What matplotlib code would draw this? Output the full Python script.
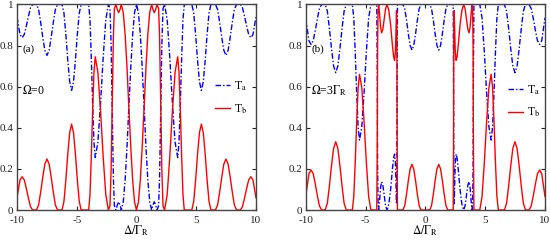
import matplotlib
matplotlib.use("Agg")
import matplotlib.pyplot as plt

plt.rcParams['font.family'] = ['Liberation Serif', 'DejaVu Serif']
plt.rcParams['mathtext.fontset'] = 'stix'
plt.rcParams['axes.unicode_minus'] = False

# ---- panel (a): Omega = 0 ----
x_a = ([-10.00, -9.75, -9.57, -9.39, -9.22, -9.04, -8.87, -8.69,
        -8.37, -8.19, -8.02, -7.84, -7.67, -7.49, -7.31, -7.14, -6.96, -6.79, -6.61,
        -6.23, -6.07, -5.91, -5.75, -5.59, -5.43, -5.27, -5.11, -4.95, -4.79, -4.63,
        -4.00, -3.89, -3.78, -3.67, -3.56, -3.45, -3.23, -3.01, -2.79, -2.57, -2.35,
        -2.22, -2.12, -2.02, -1.93, -1.85, -1.72, -1.60, -1.49, -1.38, -1.27,
        -1.11, -0.95, -0.79, -0.64, -0.48, -0.32, -0.16, 0.00]
       + [0.16, 0.32, 0.48, 0.64, 0.79, 0.95, 1.11,
          1.27, 1.38, 1.49, 1.60, 1.72, 1.85, 1.93, 2.02, 2.12, 2.22,
          2.35, 2.57, 2.79, 3.01, 3.23, 3.45, 3.56, 3.67, 3.78, 3.89, 4.00,
          4.63, 4.79, 4.95, 5.11, 5.27, 5.43, 5.59, 5.75, 5.91, 6.07, 6.23,
          6.61, 6.79, 6.96, 7.14, 7.31, 7.49, 7.67, 7.84, 8.02, 8.19, 8.37,
          8.69, 8.87, 9.04, 9.22, 9.39, 9.57, 9.75, 10.00])
tb_a = ([0.06, 0.146, 0.162, 0.146, 0.105, 0.057, 0.016, 0.0,
         0.0, 0.025, 0.087, 0.161, 0.223, 0.248, 0.223, 0.161, 0.087, 0.025, 0.0,
         0.0, 0.042, 0.146, 0.272, 0.376, 0.418, 0.376, 0.272, 0.146, 0.042, 0.0,
         0.0, 0.075, 0.261, 0.484, 0.67, 0.745, 0.67, 0.484, 0.261, 0.075, 0.0,
         0.02, 0.2, 0.55, 0.85, 0.98, 1.0, 0.975, 0.96, 0.975, 1.0,
         0.962, 0.854, 0.691, 0.5, 0.309, 0.146, 0.038, 0.0]
        + [0.038, 0.146, 0.309, 0.5, 0.691, 0.854, 0.962,
           1.0, 0.975, 0.96, 0.975, 1.0, 0.98, 0.85, 0.55, 0.2, 0.02,
           0.0, 0.075, 0.261, 0.484, 0.67, 0.745, 0.67, 0.484, 0.261, 0.075, 0.0,
           0.0, 0.042, 0.146, 0.272, 0.376, 0.418, 0.376, 0.272, 0.146, 0.042, 0.0,
           0.0, 0.025, 0.087, 0.161, 0.223, 0.248, 0.223, 0.161, 0.087, 0.025, 0.0,
           0.0, 0.016, 0.057, 0.105, 0.146, 0.162, 0.146, 0.06])
ta_a = ([0.94, 0.854, 0.838, 0.854, 0.895, 0.943, 0.984, 1.0,
         1.0, 0.975, 0.913, 0.839, 0.777, 0.752, 0.777, 0.839, 0.913, 0.975, 1.0,
         1.0, 0.958, 0.854, 0.728, 0.624, 0.582, 0.624, 0.728, 0.854, 0.958, 1.0,
         1.0, 0.925, 0.739, 0.516, 0.33, 0.255, 0.33, 0.516, 0.739, 0.925, 1.0,
         0.98, 0.8, 0.45, 0.15, 0.02, 0.0, 0.025, 0.04, 0.025, 0.0,
         0.038, 0.146, 0.309, 0.5, 0.691, 0.854, 0.962, 1.0]
        + [0.962, 0.854, 0.691, 0.5, 0.309, 0.146, 0.038,
           0.0, 0.025, 0.04, 0.025, 0.0, 0.02, 0.15, 0.45, 0.8, 0.98,
           1.0, 0.925, 0.739, 0.516, 0.33, 0.255, 0.33, 0.516, 0.739, 0.925, 1.0,
           1.0, 0.958, 0.854, 0.728, 0.624, 0.582, 0.624, 0.728, 0.854, 0.958, 1.0,
           1.0, 0.975, 0.913, 0.839, 0.777, 0.752, 0.777, 0.839, 0.913, 0.975, 1.0,
           1.0, 0.984, 0.943, 0.895, 0.854, 0.838, 0.854, 0.94])

# ---- panel (b): Omega = 3 Gamma_R ----
x_b = ([-10.00, -9.73, -9.55, -9.37, -9.20, -9.02, -8.85, -8.67,
        -8.37, -8.19, -8.02, -7.84, -7.67, -7.49, -7.31, -7.14, -6.96, -6.79, -6.61,
        -6.10, -5.98, -5.86, -5.74, -5.62, -5.50, -5.31, -5.12, -4.93, -4.74, -4.55,
        -4.06, -4.02, -3.99, -3.95, -3.90, -3.82, -3.74, -3.65, -3.55, -3.45,
        -3.32, -3.20, -3.05, -2.90, -2.75, -2.65, -2.57, -2.50, -2.45, -2.41,
        -2.38, -2.36, -2.33,
        -1.87, -1.72, -1.57, -1.42, -1.27, -1.12, -0.97, -0.82, -0.67, -0.52, -0.37,
        0.00]
       + [0.37, 0.52, 0.67, 0.82, 0.97, 1.12, 1.27, 1.42, 1.57, 1.72, 1.87,
          2.33, 2.36, 2.38, 2.41, 2.45, 2.50, 2.57, 2.65, 2.75, 2.90, 3.05,
          3.20, 3.32, 3.45, 3.55, 3.65, 3.74, 3.82, 3.90, 3.95, 3.99, 4.02, 4.06,
          4.55, 4.74, 4.93, 5.12, 5.31, 5.50, 5.62, 5.74, 5.86, 5.98, 6.10,
          6.61, 6.79, 6.96, 7.14, 7.31, 7.49, 7.67, 7.84, 8.02, 8.19, 8.37,
          8.67, 8.85, 9.02, 9.20, 9.37, 9.55, 9.73, 10.00])
tb_b = ([0.065, 0.176, 0.195, 0.176, 0.127, 0.068, 0.02, 0.0,
         0.0, 0.033, 0.116, 0.216, 0.299, 0.332, 0.299, 0.216, 0.116, 0.033, 0.0,
         0.0, 0.066, 0.231, 0.429, 0.594, 0.66, 0.594, 0.429, 0.231, 0.066, 0.0,
         0.0, 0.3, 0.8, 0.97, 1.0, 0.95, 0.89, 0.862, 0.88, 0.925,
         0.98, 1.0, 0.97, 0.9, 0.8, 0.745, 0.728, 0.77, 0.88, 0.97,
         0.9, 0.4, 0.0,
         0.0, 0.022, 0.078, 0.144, 0.2, 0.222, 0.2, 0.144, 0.078, 0.022, 0.0,
         0.0]
        + [0.0, 0.022, 0.078, 0.144, 0.2, 0.222, 0.2, 0.144, 0.078, 0.022, 0.0,
           0.0, 0.4, 0.9, 0.97, 0.88, 0.77, 0.728, 0.745, 0.8, 0.9, 0.97,
           1.0, 0.98, 0.925, 0.88, 0.862, 0.89, 0.95, 1.0, 0.97, 0.8, 0.3, 0.0,
           0.0, 0.066, 0.231, 0.429, 0.594, 0.66, 0.594, 0.429, 0.231, 0.066, 0.0,
           0.0, 0.033, 0.116, 0.216, 0.299, 0.332, 0.299, 0.216, 0.116, 0.033, 0.0,
           0.0, 0.02, 0.068, 0.127, 0.176, 0.195, 0.176, 0.065])
ta_b = ([0.935, 0.824, 0.805, 0.824, 0.873, 0.932, 0.98, 1.0,
         1.0, 0.967, 0.884, 0.784, 0.701, 0.668, 0.701, 0.784, 0.884, 0.967, 1.0,
         1.0, 0.934, 0.769, 0.571, 0.406, 0.34, 0.406, 0.571, 0.769, 0.934, 1.0,
         1.0, 0.7, 0.2, 0.03, 0.0, 0.05, 0.11, 0.138, 0.12, 0.075,
         0.02, 0.0, 0.03, 0.1, 0.2, 0.255, 0.272, 0.23, 0.12, 0.03,
         0.1, 0.6, 1.0,
         1.0, 0.978, 0.922, 0.856, 0.8, 0.778, 0.8, 0.856, 0.922, 0.978, 1.0,
         1.0]
        + [1.0, 0.978, 0.922, 0.856, 0.8, 0.778, 0.8, 0.856, 0.922, 0.978, 1.0,
           1.0, 0.6, 0.1, 0.03, 0.12, 0.23, 0.272, 0.255, 0.2, 0.1, 0.03,
           0.0, 0.02, 0.075, 0.12, 0.138, 0.11, 0.05, 0.0, 0.03, 0.2, 0.7, 1.0,
           1.0, 0.934, 0.769, 0.571, 0.406, 0.34, 0.406, 0.571, 0.769, 0.934, 1.0,
           1.0, 0.967, 0.884, 0.784, 0.701, 0.668, 0.701, 0.784, 0.884, 0.967, 1.0,
           1.0, 0.98, 0.932, 0.873, 0.824, 0.805, 0.824, 0.935])

x_ticks = [-10, -5, 0, 5, 10]
y_ticks = [0, 0.2, 0.4, 0.6, 0.8, 1]
y_ticklabels = ["0", "0.2", "0.4", "0.6", "0.8", "1"]
panel_tags = ["(a)", "(b)"]
omega_labels = [r"$\Omega$=0", r"$\Omega$=3$\Gamma_\mathrm{R}$"]
series_labels = [r"T$_\mathrm{a}$", r"T$_\mathrm{b}$"]

fig = plt.figure(figsize=(5.5, 2.41), dpi=100)
ax_a = fig.add_axes([0.0309, 0.1286, 0.4345, 0.853])
ax_b = fig.add_axes([0.5558, 0.1286, 0.4351, 0.853])

panels = [(ax_a, x_a, ta_a, tb_a, 0.547, 0.83),
          (ax_b, x_b, ta_b, tb_b, 0.529, 0.845)]

for i, (ax, xs, ta, tb, leg_y, leg_x) in enumerate(panels):
    la, = ax.plot(xs, ta, color='#0000ff', lw=1.0, linestyle=(0, (4, 1.5, 1, 1.5)),
                  label=series_labels[0])
    lb, = ax.plot(xs, tb, color='#ff0000', lw=1.0, label=series_labels[1])
    ax.set_xlim(-10, 10)
    ax.set_ylim(0, 1)
    ax.set_xticks(x_ticks)
    ax.set_xticklabels([str(t) for t in x_ticks])
    ax.set_yticks(y_ticks)
    ax.set_yticklabels(y_ticklabels)
    ax.tick_params(direction='in', length=3, width=0.8, top=True, right=True,
                   labelsize=8, colors='#222222')
    ax.tick_params(axis='x', pad=4.5)
    ax.tick_params(axis='y', pad=2.5)
    for s in ax.spines.values():
        s.set_linewidth(1.0)
        s.set_color('#444444')
    ax.set_xlabel(r"$\Delta/\Gamma_\mathrm{R}$", fontsize=8.5, labelpad=-1)
    ax.text(-9.55, 0.78, panel_tags[i], fontsize=8, ha='left', va='center')
    ax.text(-9.55, 0.58, omega_labels[i], fontsize=8.5, ha='left', va='center')
    ax.legend(handles=[la, lb], loc='center left', bbox_to_anchor=(leg_x, leg_y),
              frameon=False, fontsize=8.5, handlelength=1.25, handletextpad=0.35,
              borderpad=0, borderaxespad=0, labelspacing=0.8)

fig.savefig("out.png", dpi=100)
